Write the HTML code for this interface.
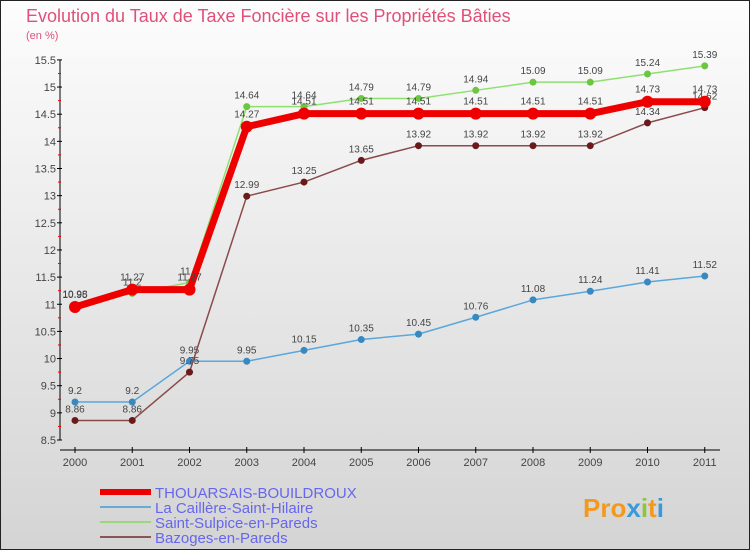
<!DOCTYPE html>
<html><head><meta charset="utf-8"><style>
html,body{margin:0;padding:0}
body{width:750px;height:550px;overflow:hidden;font-family:"Liberation Sans",sans-serif}
svg text{font-family:"Liberation Sans",sans-serif}
</style></head><body>
<svg id="chart" width="750" height="550" xmlns="http://www.w3.org/2000/svg">
<defs><linearGradient id="bg" x1="0" y1="0" x2="0" y2="1"><stop offset="0" stop-color="#fdfdfd"/><stop offset="1" stop-color="#d4d4d4"/></linearGradient></defs>
<rect x="0.5" y="0.5" width="749" height="549" fill="url(#bg)" stroke="#222"/>
<text x="26" y="22" font-size="18" fill="#e0507a">Evolution du Taux de Taxe Foncière sur les Propriétés Bâties</text>
<text x="26" y="39" font-size="11" fill="#e0507a">(en %)</text>
<g id="axes"></g><g id="series"></g><g id="legend"></g>
<text x="583" y="517" font-size="26" font-weight="bold" fill="#f39a1e">Pro<tspan fill="#3a9ad9">x</tspan><tspan fill="#8cc63f">i</tspan>t<tspan fill="#3a9ad9">i</tspan></text>
</svg>
<script>
const years=["2000","2001","2002","2003","2004","2005","2006","2007","2008","2009","2010","2011"];
const thouarsais=[10.95,11.27,11.27,14.27,14.51,14.51,14.51,14.51,14.51,14.51,14.73,14.73];
const caillere=[9.2,9.2,9.95,9.95,10.15,10.35,10.45,10.76,11.08,11.24,11.41,11.52];
const sulpice=[10.98,11.2,11.4,14.64,14.64,14.79,14.79,14.94,15.09,15.09,15.24,15.39];
const bazoges=[8.86,8.86,9.75,12.99,13.25,13.65,13.92,13.92,13.92,13.92,14.34,14.62];
const yTicks=["8.5","9","9.5","10","10.5","11","11.5","12","12.5","13","13.5","14","14.5","15","15.5"];
const NS="http://www.w3.org/2000/svg";
const x=i=>75+i*57.25;
const y=v=>440-(v-8.5)*54.3;
function mk(p,t,a){const e=document.createElementNS(NS,t);for(const k in a)e.setAttribute(k,a[k]);p.appendChild(e);return e;}
const ax=document.getElementById('axes');
let l=mk(ax,'line',{x1:60,y1:y(15.5),x2:60,y2:440,stroke:'#000'});

l=mk(ax,'line',{x1:60,y1:450,x2:720,y2:450,stroke:'#000'});

yTicks.forEach((t,i)=>{const v=parseFloat(t);const yy=y(v);
 mk(ax,'line',{x1:57,y1:yy,x2:62,y2:yy,stroke:'#000'});
 if(i<yTicks.length-1)mk(ax,'line',{x1:58,y1:y(v+0.25),x2:61,y2:y(v+0.25),stroke:'#e00'});
 const tx=mk(ax,'text',{x:56,y:yy+4,'font-size':11,'text-anchor':'end',fill:'#444'});tx.textContent=t;
 });
years.forEach((t,i)=>{mk(ax,'line',{x1:x(i),y1:447,x2:x(i),y2:453,stroke:'#000'});
 const tx=mk(ax,'text',{x:x(i),y:466,'font-size':11,'text-anchor':'middle',fill:'#444'});tx.textContent=t;
 });
const sg=document.getElementById('series');
function series(name,data,color,w,r,dot,labelDy){
 const g=mk(sg,'g',{});
 mk(g,'polyline',{points:data.map((v,i)=>x(i)+','+y(v)).join(' '),fill:'none',stroke:color,'stroke-width':w,'stroke-linejoin':'round'});
 data.forEach((v,i)=>{const c=mk(g,'circle',{cx:x(i),cy:y(v),r:r,fill:dot});
  
  const t=mk(g,'text',{x:x(i),y:y(v)+labelDy,'font-size':10,'text-anchor':'middle',fill:'#444'});t.textContent=String(v);
  });
}
series('caillere',caillere,'#5aa7dc',1.5,3.5,'#3a88c0',-8);
series('sulpice',sulpice,'#90e070',1.5,3.5,'#6cc640',-8);
series('bazoges',bazoges,'#8a4a4a',1.5,3.5,'#6a1a1a',-8);
series('thouarsais',thouarsais,'#ee0000',7,6,'#ee0000',-9);
const lg=document.getElementById('legend');
const items=[["THOUARSAIS-BOUILDROUX","#ee0000",6],["La Caillère-Saint-Hilaire","#6aaad8",2],["Saint-Sulpice-en-Pareds","#98d878",2],["Bazoges-en-Pareds","#8a5555",2]];
items.forEach((it,i)=>{const yy=492+i*15;
 const g=mk(lg,'g',{});
 mk(g,'line',{x1:100,y1:yy,x2:151,y2:yy,stroke:it[1],'stroke-width':it[2]});
 const t=mk(g,'text',{x:155,y:yy+6,'font-size':15,fill:'#6666ee'});t.textContent=it[0];});
</script>
</body></html>
